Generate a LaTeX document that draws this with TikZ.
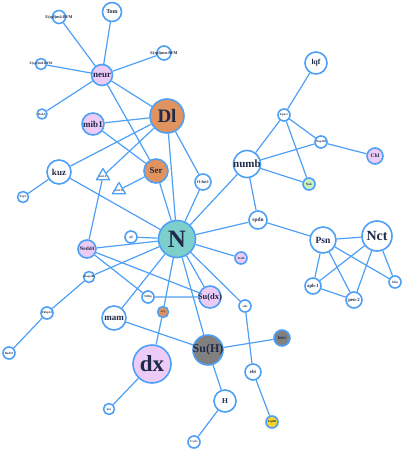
\documentclass[tikz,border=0pt]{standalone}
\usepackage{fontspec}
\setmainfont{Liberation Serif}
\usetikzlibrary{shapes.geometric,backgrounds}
\definecolor{linkblue}{RGB}{77,160,245}
\definecolor{labelnavy}{RGB}{30,42,72}
\definecolor{genepink}{RGB}{237,203,247}
\definecolor{geneorange}{RGB}{224,147,94}
\definecolor{geneteal}{RGB}{125,207,203}
\definecolor{genegray}{RGB}{128,128,128}
\definecolor{genegreen}{RGB}{200,240,192}
\definecolor{geneyellow}{RGB}{244,212,42}
% label that may spill over its circle
\newcommand{\gname}[1]{\makebox[0pt]{#1}}
\begin{document}
\begin{tikzpicture}[x=1pt, y=-1pt, line join=round, line cap=round,
	gene/.style={circle, draw=linkblue, line width=1.6pt, fill=white, inner sep=0pt, text=labelnavy},
	mirna/.style={regular polygon, regular polygon sides=3, draw=linkblue, line width=1.3pt, fill=white, inner sep=0pt, minimum size=15pt, text=labelnavy},
	sz/.style={font=\bfseries\fontsize{#1}{#1}\selectfont},
	link/.style={draw=linkblue, line width=1.2pt}]
	
	\useasboundingbox (0,0) rectangle (403,453);
	
	% Notch pathway genes
	\node[gene, minimum size=19pt, sz=6] (Tom) at (112,12) {Tom};
	\node[gene, minimum size=13pt, sz=4.2] (Em4) at (59,17) {\gname{E(spl)m4-BFM}};
	\node[gene, minimum size=14pt, sz=4.2] (Ema) at (164,53) {\gname{E(spl)mα-BFM}};
	\node[gene, minimum size=11pt, sz=3.5] (Em8) at (41,64) {\gname{E(spl)m8-BFM}};
	\node[gene, minimum size=21pt, sz=9, fill=genepink] (neur) at (102,75) {neur};
	\node[gene, minimum size=10pt, sz=3] (BobA) at (42,114) {\gname{BobA}};
	\node[gene, minimum size=22pt, sz=9, fill=genepink] (mib1) at (93,124) {mib1};
	\node[gene, minimum size=34pt, sz=19, fill=geneorange] (Dl) at (167,116) {Dl};
	\node[gene, minimum size=24pt, sz=9] (kuz) at (59,172) {kuz};
	\node[mirna, sz=3] (mir1) at (103,176) {\raisebox{-2pt}{\gname{mir-1}}};
	\node[mirna, sz=3] (mir8) at (119,190) {\raisebox{-2pt}{\gname{mir-8}}};
	\node[gene, minimum size=11pt, sz=3] (Tsp5) at (23,197) {\gname{Tsp5}};
	\node[gene, minimum size=24pt, sz=9, fill=geneorange] (Ser) at (156,171) {Ser};
	\node[gene, minimum size=16pt, sz=4.2] (Ofut1) at (203,182) {\gname{O-fut1}};
	\node[gene, minimum size=27pt, sz=11] (numb) at (247,164) {\gname{numb}};
	\node[gene, minimum size=22pt, sz=7.5] (lqf) at (316,63) {lqf};
	\node[gene, minimum size=12pt, sz=3] (Epn1) at (284,115) {\gname{Epn-1}};
	\node[gene, minimum size=12pt, sz=3] (Nup160) at (321,142) {\gname{Nup160}};
	\node[gene, minimum size=16pt, sz=5.5, fill=genepink] (Chl) at (375,156) {Chl};
	\node[gene, minimum size=12pt, sz=3.2, fill=genegreen] (Nak) at (309,184) {\gname{Nak}};
	\node[gene, minimum size=18pt, sz=5.5] (spdo) at (258,220) {\gname{spdo}};
	\node[gene, minimum size=37pt, sz=25, fill=geneteal] (N) at (177,239) {N};
	\node[gene, minimum size=12pt, sz=3.5] (sif) at (131,237) {\gname{sif}};
	\node[gene, minimum size=18pt, sz=5.3, fill=genepink] (Nedd4) at (87,249) {\gname{Nedd4}};
	\node[gene, minimum size=12pt, sz=3, fill=genepink] (Traf6) at (241,258) {\gname{Traf6}};
	\node[gene, minimum size=26pt, sz=9.5] (Psn) at (323,240) {Psn};
	\node[gene, minimum size=30pt, sz=14] (Nct) at (377,236) {Nct};
	\node[gene, minimum size=16pt, sz=4.8] (aph1) at (313,286) {\gname{aph-1}};
	\node[gene, minimum size=16pt, sz=4.8] (pen2) at (354,300) {\gname{pen-2}};
	\node[gene, minimum size=12pt, sz=3.2] (Idm) at (395,282) {\gname{Idm}};
	\node[gene, minimum size=11pt, sz=3] (Akap200) at (89,277) {\gname{Akap200}};
	\node[gene, minimum size=12pt, sz=3] (Fkbp14) at (47,313) {\gname{Fkbp14}};
	\node[gene, minimum size=12pt, sz=3] (Rad23) at (9,353) {\gname{Rad23}};
	\node[gene, minimum size=12pt, sz=3] (Ndfip) at (148,297) {\gname{Ndfip}};
	\node[gene, minimum size=22pt, sz=8.5, fill=genepink] (Sudx) at (210,297) {\gname{Su(dx)}};
	\node[gene, minimum size=24pt, sz=9] (mam) at (114,318) {mam};
	\node[gene, minimum size=11pt, sz=3, fill=geneorange] (wry) at (163,312) {\gname{wry}};
	\node[gene, minimum size=12pt, sz=3] (cals) at (245,306) {\gname{cals}};
	\node[gene, minimum size=30pt, sz=12, fill=genegray] (SuH) at (208,350) {\gname{Su(H)}};
	\node[gene, minimum size=16pt, sz=4.8, fill=genegray] (Insv) at (282,338) {\gname{Insv}};
	\node[gene, minimum size=38pt, sz=23, fill=genepink] (dx) at (152,364) {dx};
	\node[gene, minimum size=16pt, sz=4.8] (ebi) at (253,372) {ebi};
	\node[gene, minimum size=22pt, sz=7.5] (H) at (225,401) {H};
	\node[gene, minimum size=11pt, sz=3] (krz) at (109,409) {\gname{krz}};
	\node[gene, minimum size=12pt, sz=3] (CycG) at (194,442) {\gname{CycG}};
	\node[gene, minimum size=12pt, sz=3, fill=geneyellow] (Esp8B) at (272,422) {\gname{Esp8B}};
	
	\begin{scope}[on background layer]
		% neur and Delta ligands
		\draw[link] (neur)--(Tom) (neur)--(Em4) (neur)--(Ema) (neur)--(Em8) (neur)--(BobA);
		\draw[link] (neur)--(Dl) (neur)--(Ser) (mib1)--(Dl) (mib1)--(Ser);
		\draw[link] (Dl)--(kuz) (Dl)--(mir1) (Dl)--(Ofut1) (Dl)--(N);
		\draw[link] (Ser)--(mir8) (Ser)--(N) (mir1)--(Nedd4);
		\draw[link] (kuz)--(Tsp5) (kuz)--(N);
		% numb
		\draw[link] (numb)--(Epn1) (numb)--(Nup160) (numb)--(Nak) (numb)--(N) (numb)--(spdo);
		\draw[link] (Epn1)--(lqf) (Epn1)--(Nup160) (Epn1)--(Nak) (Nup160)--(Chl);
		% gamma-secretase
		\draw[link] (N)--(spdo) (spdo)--(Psn);
		\draw[link] (Psn)--(Nct) (Psn)--(aph1) (Psn)--(pen2) (Psn)--(Idm);
		\draw[link] (Nct)--(aph1) (Nct)--(pen2) (Nct)--(Idm) (aph1)--(pen2);
		% N partners
		\draw[link] (N)--(Ofut1) (N)--(sif) (N)--(Nedd4) (N)--(Traf6) (N)--(Sudx) (N)--(cals);
		\draw[link] (N)--(Akap200) (N)--(mam) (N)--(wry) (N)--(SuH);
		\draw[link] (Nedd4)--(Sudx) (Nedd4)--(Ndfip) (Ndfip)--(Sudx);
		\draw[link] (Akap200)--(Fkbp14) (Fkbp14)--(Rad23);
		% Su(H) and deltex
		\draw[link] (mam)--(SuH) (wry)--(dx) (dx)--(krz);
		\draw[link] (SuH)--(Insv) (SuH)--(H) (H)--(CycG);
		\draw[link] (cals)--(ebi) (ebi)--(Esp8B);
	\end{scope}
\end{tikzpicture}
\end{document}
